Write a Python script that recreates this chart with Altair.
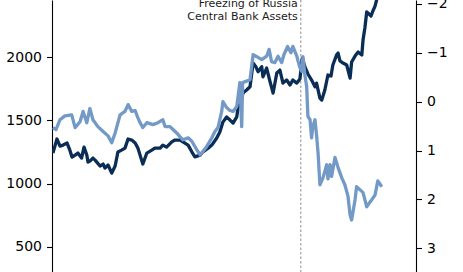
import altair as alt
import pandas as pd

# Gold price (USD/oz), left axis
gold_year = [2014.11, 2014.24, 2014.34, 2014.44, 2014.57, 2014.66, 2014.73, 2014.83, 2014.92, 2015.04,
             2015.12, 2015.21, 2015.25, 2015.31, 2015.41, 2015.48, 2015.64, 2015.74, 2015.80, 2015.90,
             2016.02, 2016.13, 2016.22, 2016.34, 2016.45, 2016.55, 2016.67, 2016.78, 2016.87, 2016.99,
             2017.03, 2017.16, 2017.32, 2017.42, 2017.59, 2017.68, 2017.80, 2017.97, 2018.07, 2018.24,
             2018.33, 2018.50, 2018.62, 2018.72, 2018.89, 2018.98, 2019.15, 2019.27, 2019.43, 2019.53,
             2019.63, 2019.75, 2019.86, 2019.96, 2020.08, 2020.12, 2020.21, 2020.28, 2020.40, 2020.51,
             2020.61, 2020.70, 2020.77, 2020.89, 2020.93, 2021.05, 2021.16, 2021.26, 2021.38, 2021.48,
             2021.58, 2021.70, 2021.81, 2021.90, 2022.03, 2022.13, 2022.21, 2022.29, 2022.39, 2022.51,
             2022.62, 2022.67, 2022.78, 2022.84, 2022.94, 2023.04, 2023.14, 2023.20, 2023.32, 2023.37,
             2023.43, 2023.53, 2023.65, 2023.76, 2023.81, 2023.92, 2024.02, 2024.14, 2024.18, 2024.24,
             2024.30, 2024.34, 2024.44, 2024.50, 2024.57, 2024.62, 2024.70, 2024.76, 2024.83]
gold_price = [1242, 1353, 1297, 1305, 1321, 1265, 1210, 1226, 1242, 1202,
              1289, 1226, 1170, 1178, 1202, 1186, 1139, 1155, 1123, 1147,
              1083, 1139, 1250, 1265, 1281, 1353, 1345, 1321, 1281, 1186,
              1155, 1242, 1265, 1281, 1281, 1305, 1289, 1331, 1345, 1345,
              1331, 1305, 1252, 1212, 1226, 1252, 1281, 1305, 1361, 1408,
              1487, 1527, 1503, 1479, 1529, 1598, 1638, 1717, 1741, 1767,
              1955, 1926, 1886, 1926, 1846, 1915, 1807, 1717, 1876, 1899,
              1796, 1820, 1781, 1820, 1796, 1828, 1994, 1926, 1868, 1820,
              1767, 1796, 1677, 1662, 1741, 1860, 1852, 1939, 2018, 2034,
              1971, 1955, 1939, 1836, 1963, 2010, 2042, 2018, 2137, 2232,
              2359, 2351, 2327, 2367, 2406, 2454, 2520, 2580, 2650]

# 10y real yield (%), right axis (inverted)
yield_year = [2014.11, 2014.21, 2014.34, 2014.50, 2014.72, 2014.83, 2014.99, 2015.09, 2015.21, 2015.31,
              2015.41, 2015.57, 2015.74, 2015.90, 2016.02, 2016.13, 2016.29, 2016.45, 2016.55, 2016.67,
              2016.78, 2016.87, 2016.94, 2017.03, 2017.16, 2017.36, 2017.52, 2017.68, 2017.75, 2017.91,
              2018.01, 2018.13, 2018.24, 2018.33, 2018.50, 2018.62, 2018.78, 2018.89, 2018.98, 2019.10,
              2019.27, 2019.37, 2019.47, 2019.59, 2019.63, 2019.75, 2019.86, 2019.96, 2020.08, 2020.18,
              2020.24, 2020.27, 2020.40, 2020.51, 2020.61, 2020.73, 2020.89, 2021.05, 2021.13, 2021.21,
              2021.32, 2021.42, 2021.54, 2021.61, 2021.73, 2021.84, 2021.90, 2022.03, 2022.07, 2022.13,
              2022.19, 2022.23, 2022.29, 2022.35, 2022.39, 2022.46, 2022.51, 2022.55, 2022.62, 2022.67,
              2022.72, 2022.78, 2022.88, 2023.00, 2023.04, 2023.11, 2023.16, 2023.27, 2023.37, 2023.49,
              2023.59, 2023.69, 2023.76, 2023.81, 2023.92, 2023.97, 2024.08, 2024.18, 2024.30, 2024.41,
              2024.46, 2024.57, 2024.66, 2024.79]
real_yield = [0.53, 0.57, 0.37, 0.29, 0.27, 0.53, 0.41, 0.20, 0.43, 0.14,
              0.37, 0.51, 0.61, 0.70, 0.84, 0.64, 0.27, 0.20, 0.06, 0.20,
              0.18, 0.33, 0.43, 0.53, 0.43, 0.47, 0.43, 0.37, 0.51, 0.51,
              0.57, 0.64, 0.72, 0.78, 0.74, 0.81, 0.98, 1.09, 1.02, 0.92,
              0.74, 0.61, 0.53, 0.20, 0.00, 0.12, 0.18, 0.20, 0.10, -0.39,
              0.51, -0.39, -0.42, -0.45, -0.96, -0.92, -0.86, -0.93, -1.07, -0.82,
              -0.80, -0.93, -0.80, -0.96, -1.13, -1.00, -1.13, -0.93, -0.83, -0.70,
              -0.62, -0.92, -0.55, -0.31, 0.30, 0.37, 0.74, 0.51, 0.37, 0.68,
              1.05, 1.70, 1.56, 1.29, 1.58, 1.29, 1.53, 1.14, 1.35, 1.56,
              1.70, 1.93, 2.32, 2.42, 2.01, 1.74, 1.80, 1.86, 2.15, 2.05,
              2.01, 1.91, 1.62, 1.74]

event_year = [2022.16]
event_lines = ["Freezing of Russia", "Central Bank Assets"]
left_ticks = [500, 1000, 1500, 2000]
right_ticks = [-2, -1, 0, 1, 2, 3]

gold = pd.DataFrame({"year": gold_year, "price": gold_price})
ylds = pd.DataFrame({"year": yield_year, "real": real_yield})
ev = pd.DataFrame({"year": event_year})

FONT = "DejaVu Sans"
xs = alt.Scale(domain=[2014.08, 2025.90], nice=False, zero=False)
X = alt.X("year:Q", scale=xs, axis=None)

axis_style = dict(grid=False, title=None, domainColor="#000000", domainWidth=1.1,
                  tickColor="#000000", tickWidth=1.1, tickSize=5.5, labelPadding=5,
                  labelFont=FONT, labelFontSize=14, labelColor="#000000",
                  labelFlush=False, labelOverlap=False, format="d")

rule = alt.Chart(ev).mark_rule(color="#8c8c8c", strokeDash=[2.5, 2], strokeWidth=1).encode(x=X)

gold_line = alt.Chart(gold).mark_line(color="#0a2d56", strokeWidth=3.3, clip=True,
                                      strokeJoin="round").encode(
    x=X,
    y=alt.Y("price:Q", scale=alt.Scale(domain=[300, 2454], nice=False, zero=False),
            axis=alt.Axis(orient="left", values=left_ticks, **axis_style)),
)

yld_line = alt.Chart(ylds).mark_line(color="#7399c7", strokeWidth=3.3, clip=True,
                                     strokeJoin="round").encode(
    x=X,
    y=alt.Y("real:Q", scale=alt.Scale(domain=[-2.08, 3.485], reverse=True, nice=False, zero=False),
            axis=alt.Axis(orient="right", values=right_ticks, **axis_style)),
)

txt1 = alt.Chart(ev).mark_text(text=event_lines[0], align="right", dx=-3, fontSize=11, font=FONT,
                               color="#1a1a1a", baseline="alphabetic").encode(x=X, y=alt.value(7))
txt2 = alt.Chart(ev).mark_text(text=event_lines[1], align="right", dx=-3, fontSize=11, font=FONT,
                               color="#1a1a1a", baseline="alphabetic").encode(x=X, y=alt.value(20))

chart = alt.layer(rule, gold_line, yld_line, txt1, txt2).resolve_scale(y="independent").properties(
    width=364, height=272,
    padding={"left": 52, "right": 47, "top": 0, "bottom": 0},
    autosize=alt.AutoSizeParams(type="none"),
    background="white",
).configure_view(stroke=None)

chart.save("out.html", embed_options={"renderer": "svg", "actions": False})
